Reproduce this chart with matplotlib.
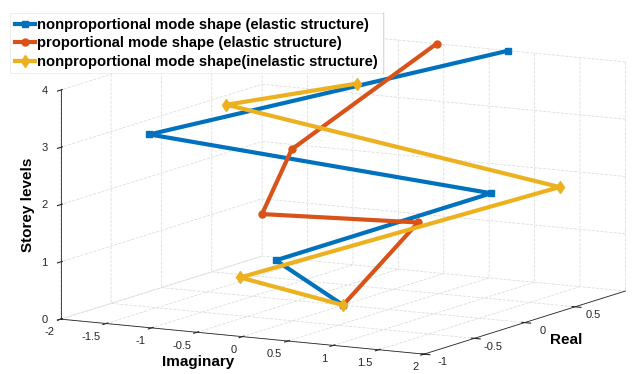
import matplotlib
matplotlib.use("Agg")
import matplotlib.pyplot as plt
from matplotlib.lines import Line2D

plt.rcParams["font.family"] = ["Liberation Sans", "DejaVu Sans"]
plt.rcParams["axes.unicode_minus"] = False
plt.rcParams["grid.linestyle"] = "--"
plt.rcParams["grid.color"] = "#dedede"
plt.rcParams["grid.linewidth"] = 0.6

# storey levels and mode shape components (imaginary, real)
storeys = [0, 1, 2, 3, 4]

np_el_imag = [0, -0.23, 1.32, -1.60, 0.71]
np_el_real = [0, -0.46, 0.28, -0.48, 1.00]

p_el_imag = [0, -0.05, -0.05, 0, -0.08]
p_el_real = [0, 0.79, -0.76, -0.51, 1.00]

np_inel_imag = [0, -0.07, 1.73, -1.75, 0.32]
np_inel_real = [0, -0.96, 0.59, 0.42, -0.15]

labels = [
    "nonproportional mode shape (elastic structure)",
    "proportional mode shape (elastic structure)",
    "nonproportional mode shape(inelastic structure)",
]

imag_ticks = [-2, -1.5, -1, -0.5, 0, 0.5, 1, 1.5, 2]
real_ticks = [-1, -0.5, 0, 0.5]
storey_ticks = [0, 1, 2, 3, 4]

fig = plt.figure(figsize=(6.33, 3.74), dpi=100)
ax = fig.add_axes([0.034, -0.023, 1.0, 1.0], projection="3d", proj_type="ortho")
ax.view_init(elev=10, azim=-61)
ax.set_box_aspect((1, 1, 0.56), zoom=1.64)

lw = 3
series = [
    (np_el_imag, np_el_real, "#0072BD", "s", 5),
    (p_el_imag, p_el_real, "#D95319", "o", 5),
    (np_inel_imag, np_inel_real, "#EDB120", "d", 6),
]
for (im, re, col, mk, ms), lab in zip(series, labels):
    ln, = ax.plot(im, re, storeys, color=col, lw=lw, marker=mk, ms=ms, label=lab)
    # the 3d axes box is square, so keep lines beyond it visible
    ln.set_clip_on(False)

ax.set_xlim(-2, 2)
ax.set_ylim(-1, 1)
ax.set_zlim(0, 4)
ax.set_xticks(imag_ticks)
ax.set_xticklabels([f"{t:g}" for t in imag_ticks], ha="right")
ax.set_yticks(real_ticks)
ax.set_yticklabels([f"{t:g}" for t in real_ticks], va="bottom")
ax.set_zticks(storey_ticks)
ax.set_zticklabels([f"{t:g}" for t in storey_ticks], va="center")

for axis in (ax.xaxis, ax.yaxis, ax.zaxis):
    axis.set_pane_color((1, 1, 1, 0))
    axis.pane.set_edgecolor((1, 1, 1, 0))
    axis.line.set_color("#262626")
    axis.line.set_linewidth(0.6)
    axis._axinfo["tick"]["color"] = "#262626"
ax.tick_params(labelsize=8, colors="#262626")
ax.tick_params(axis="x", pad=-4)
ax.tick_params(axis="y", pad=-1)
ax.tick_params(axis="z", pad=-4)

# storey axis on the left-hand edge
ax.zaxis.set_ticks_position("lower")

fig.text(0.313, 0.032, "Imaginary", fontsize=11, fontweight="bold",
         ha="center", va="center")
fig.text(0.894, 0.091, "Real", fontsize=11, fontweight="bold",
         ha="center", va="center")
fig.text(0.044, 0.452, "Storey levels", fontsize=11, fontweight="bold",
         ha="center", va="center", rotation=90)

leg = fig.legend(loc="upper left", bbox_to_anchor=(0.016, 0.964),
                 borderaxespad=0, prop={"weight": "bold", "size": 10.6},
                 handlelength=1.4, handletextpad=0.15, borderpad=0.3,
                 labelspacing=0.3, fancybox=False, framealpha=1,
                 edgecolor="#ebebeb")
leg.get_frame().set_linewidth(0.6)

fig.canvas.draw()
bb = leg.get_window_extent().transformed(fig.transFigure.inverted())
fig.add_artist(Line2D([bb.x1, bb.x1], [bb.y0, bb.y1], color="#262626",
                      lw=0.8, transform=fig.transFigure))

fig.savefig("out.png", dpi=100)
